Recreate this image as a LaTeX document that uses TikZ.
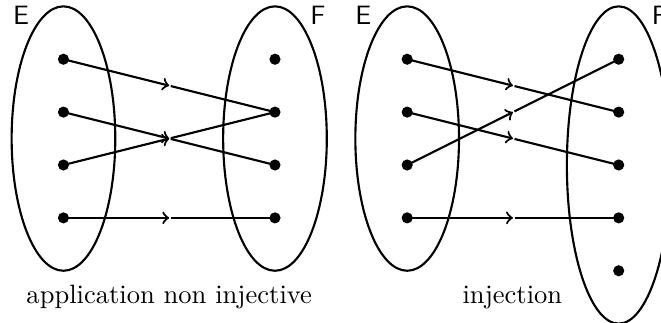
\documentclass[tikz,border=0pt]{standalone}
\usetikzlibrary{calc}
\begin{document}
\begin{tikzpicture}[x=0.7cm,y=0.7cm,line width=0.8pt,
  pt/.style={circle,fill,inner sep=0pt,minimum size=4.2pt},
  lbl/.style={font=\sffamily,anchor=base},
  captxt/.style={anchor=base}]
\useasboundingbox (0,0) rectangle (12.5,-6.108);
\clip (0,0) rectangle (12.5,-6.108);
% left diagram
\draw (1.2,-2.62) ellipse [x radius=0.98,y radius=2.5];
\draw (5.2,-2.62) ellipse [x radius=0.98,y radius=2.5];
\node[lbl] (lE) at (0.40,-0.454) {E};
\node[lbl] (lF) at (6.01,-0.454) {F};
\foreach \i/\y in {1/-1.12,2/-2.12,3/-3.12,4/-4.12}{
  \node[pt] (a\i) at (1.2,\y) {};
  \node[pt] (b\i) at (5.2,\y) {};
}
\foreach \s/\t in {1/2,2/3,3/2,4/4}{
  \coordinate (m) at ($(a\s)!0.5!(b\t)$);
  \draw[->] (a\s.center) -- (m);
  \draw[shorten <=0.6pt] (m) -- (b\t.center);
}
\node[captxt] (lc) at (3.2,-5.73) {application non injective};
% right diagram
\draw (7.7,-2.62) ellipse [x radius=0.98,y radius=2.5];
\draw (11.7,-3.12) ellipse [x radius=0.98,y radius=3];
\node[lbl] (rE) at (6.87,-0.454) {E};
\node[lbl] (rF) at (12.47,-0.454) {F};
\foreach \i/\y in {1/-1.12,2/-2.12,3/-3.12,4/-4.12}{
  \node[pt] (c\i) at (7.7,\y) {};
}
\foreach \i/\y in {1/-1.12,2/-2.12,3/-3.12,4/-4.12,5/-5.12}{
  \node[pt] (d\i) at (11.7,\y) {};
}
\foreach \s/\t in {1/2,2/3,3/1,4/4}{
  \coordinate (m) at ($(c\s)!0.5!(d\t)$);
  \draw[->] (c\s.center) -- (m);
  \draw[shorten <=0.6pt] (m) -- (d\t.center);
}
\node[captxt] (rc) at (9.69,-5.73) {injection};
\end{tikzpicture}
\end{document}
